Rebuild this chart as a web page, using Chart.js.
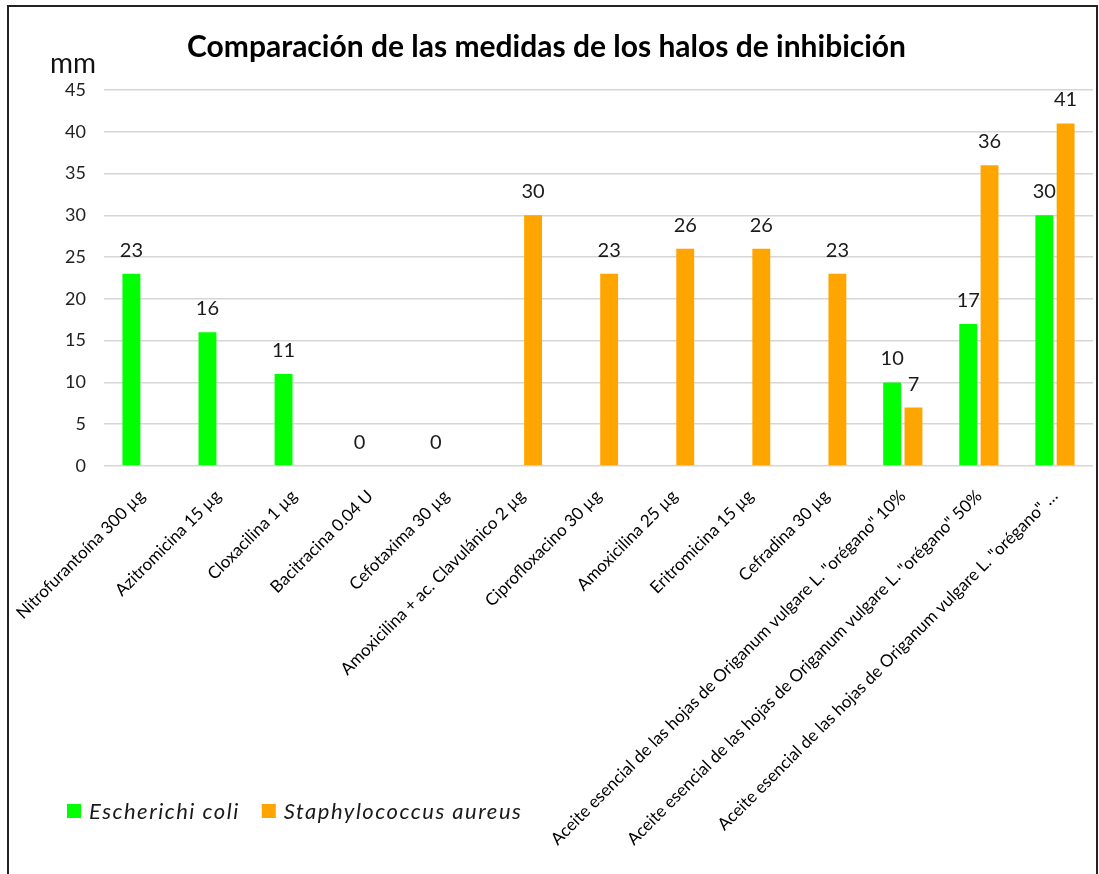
<!DOCTYPE html>
<html>
<head>
<meta charset="utf-8">
<script src="https://cdn.jsdelivr.net/npm/chart.js@4.4.1/dist/chart.umd.min.js"></script>
<style>
  html, body { margin: 0; padding: 0; background: #fff; overflow: hidden; }
  #wrap { position: relative; width: 1099px; height: 874px; }
  #frame { position: absolute; left: 7px; top: 5px; width: 1091px; height: 1000px; box-sizing: border-box; border: 2px solid #222; pointer-events: none; }
  canvas { position: absolute; left: 0; top: 0; }
</style>
</head>
<body>
<div id="wrap">
  <canvas id="c" width="1099" height="874"></canvas>
  <div id="frame"></div>
</div>
<script>
const titleText = 'Comparación de las medidas de los halos de inhibición';
const unitLabel = 'mm';
const categories = [
  'Nitrofurantoína 300 µg',
  'Azitromicina 15 µg',
  'Cloxacilina 1 µg',
  'Bacitracina 0.04 U',
  'Cefotaxima 30 µg',
  'Amoxicilina + ac. Clavulánico 2 µg',
  'Ciprofloxacino 30 µg',
  'Amoxicilina 25 µg',
  'Eritromicina 15 µg',
  'Cefradina 30 µg',
  'Aceite esencial de las hojas de Origanum vulgare L. "orégano" 10%',
  'Aceite esencial de las hojas de Origanum vulgare L. "orégano" 50%',
  'Aceite esencial de las hojas de Origanum vulgare L. "orégano" …'
];
const seriesNames = ['Escherichi coli', 'Staphylococcus aureus'];
const ecoliValues = [23, 16, 11, 0, 0, null, null, null, null, null, 10, 17, 30];
const aureusValues = [null, null, null, null, null, 30, 23, 26, 26, 23, 7, 36, 41];
const yMin = 0, yMax = 45, yStep = 5;
const seriesColors = ['#00ff00', '#ffa500'];

const valueLabels = {
  id: 'valueLabels',
  afterDatasetsDraw(chart) {
    const ctx = chart.ctx;
    ctx.save();
    ctx.font = '20px Lato';
    ctx.fillStyle = '#1a1a1a';
    ctx.textAlign = 'center';
    ctx.textBaseline = 'alphabetic';
    chart.data.datasets.forEach((ds, di) => {
      const meta = chart.getDatasetMeta(di);
      meta.data.forEach((el, i) => {
        const v = ds.data[i];
        if (v === null || v === undefined) return;
        ctx.fillText(String(v), el.x, el.y - 17);
      });
    });
    ctx.restore();
  }
};

const extras = {
  id: 'extras',
  afterDraw(chart) {
    const ctx = chart.ctx;
    const a = chart.chartArea;
    ctx.save();
    // unit label
    ctx.font = '28px Lato';
    ctx.fillStyle = '#111';
    ctx.textAlign = 'center';
    ctx.textBaseline = 'middle';
    ctx.fillText(unitLabel, a.left - 31, a.top - 26);
    // legend
    let x = a.left - 37;
    const y = chart.height - 63;
    ctx.font = 'italic 22px Lato';
    ctx.textAlign = 'left';
    try { ctx.letterSpacing = '1.5px'; } catch (e) {}
    seriesNames.forEach((name, i) => {
      ctx.fillStyle = seriesColors[i];
      ctx.fillRect(x, y - 7, 14, 14);
      ctx.fillStyle = '#1a1a1a';
      ctx.fillText(name, x + 22, y + 1);
      x += 22 + ctx.measureText(name).width + 22;
    });
    ctx.restore();
  }
};

new Chart(document.getElementById('c'), {
  type: 'bar',
  data: {
    labels: categories,
    datasets: [
      { label: seriesNames[0], data: ecoliValues, backgroundColor: seriesColors[0] },
      { label: seriesNames[1], data: aureusValues, backgroundColor: seriesColors[1] }
    ]
  },
  options: {
    responsive: false,
    animation: false,
    categoryPercentage: 0.56,
    barPercentage: 0.84,
    layout: { padding: { left: 0, right: 6, top: 0, bottom: 0 } },
    plugins: {
      legend: { display: false },
      tooltip: { enabled: false },
      title: {
        display: true,
        text: titleText,
        color: '#000',
        font: { family: 'Lato', size: 30, weight: 'bold' },
        padding: { top: 29, bottom: 25 }
      }
    },
    scales: {
      x: {
        grid: { display: false },
        border: { display: false },
        ticks: {
          autoSkip: false,
          minRotation: 45,
          maxRotation: 45,
          color: '#000',
          padding: 12,
          font: { family: 'Lato', size: 17 }
        },
        afterFit(scale) { scale.height = 408; }
      },
      y: {
        min: yMin,
        max: yMax,
        grid: { color: '#d6d6d6', lineWidth: 1.5, drawTicks: false },
        border: { display: false },
        ticks: {
          stepSize: yStep,
          color: '#222',
          padding: 18,
          font: { family: 'Lato', size: 18 }
        },
        afterFit(scale) { scale.width = 104; }
      }
    }
  },
  plugins: [valueLabels, extras]
});
</script>
</body>
</html>
